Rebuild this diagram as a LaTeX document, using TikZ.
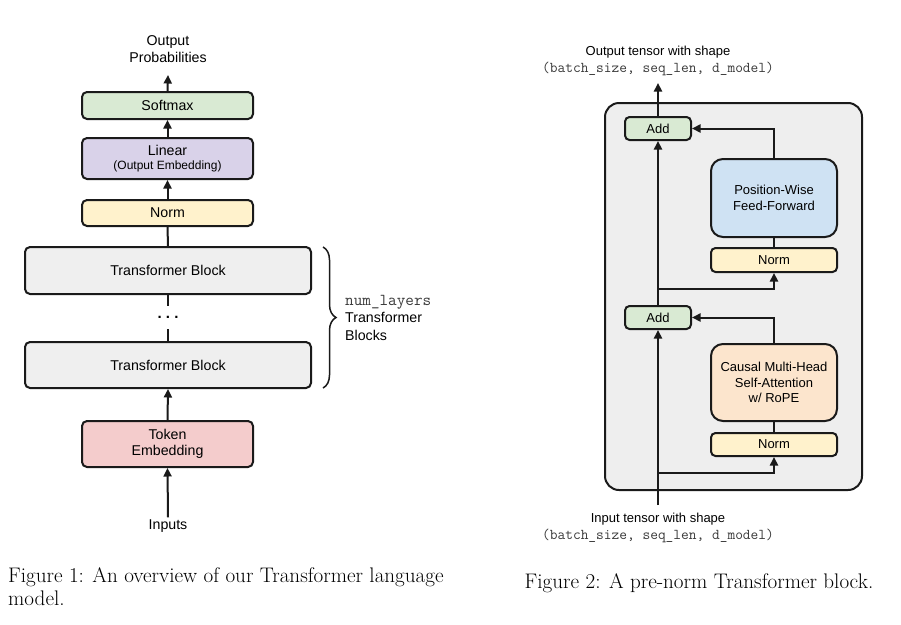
\documentclass[tikz,border=0pt]{standalone}
\usepackage{fontspec}
\newfontfamily\arial{Liberation Sans}
\usetikzlibrary{arrows.meta,decorations.pathreplacing}
\definecolor{cgreen}{HTML}{D9EAD3}
\definecolor{cpurple}{HTML}{D9D2E9}
\definecolor{cyellow}{HTML}{FFF2CC}
\definecolor{cgray}{HTML}{EFEFEF}
\definecolor{cpink}{HTML}{F4CCCC}
\definecolor{cblue}{HTML}{CFE2F3}
\definecolor{cpeach}{HTML}{FCE5CD}
\definecolor{couter}{HTML}{EEEEEE}
\definecolor{cline}{HTML}{1A1A1A}
\definecolor{cmono}{HTML}{3A3A3A}
\begin{document}
\begin{tikzpicture}[x=1pt,y=-1pt,
  blk/.style={draw=cline,line width=2pt,rounded corners=5pt,inner sep=0pt,align=center,
     font=\arial\fontsize{14.2}{16.5}\selectfont},
  rblk/.style={draw=cline,line width=2pt,rounded corners=4.5pt,inner sep=0pt,align=center,
     font=\arial\fontsize{13}{15.5}\selectfont},
  conn/.style={draw=cline,line width=2pt},
  arr/.style={conn,-{Triangle[length=8.5pt,width=8pt]}},
  lbl/.style={inner sep=0pt,align=center,font=\arial\fontsize{14.2}{17}\selectfont},
  rlbl/.style={inner sep=0pt,align=center,font=\arial\fontsize{13}{17}\selectfont},
  captxt/.style={inner sep=0pt,font=\fontsize{21.1}{23.5}\selectfont}]
\useasboundingbox (0,0) rectangle (901,624);
\fill[white] (0,0) rectangle (901,624);

% ---------- Figure 1 ----------
\node[lbl] (outp) at (168,49) {Output\\Probabilities};
\coordinate (outarr) at (168,75);
\node[blk,fill=cgreen,minimum width=171pt,minimum height=27pt] (softmax) at (167.5,105.5) {Softmax};
\node[blk,fill=cpurple,minimum width=171pt,minimum height=41pt] (linear) at (167.5,158.5)
  {Linear\\[-2pt]{\fontsize{12}{13}\selectfont (Output Embedding)}};
\node[blk,fill=cyellow,minimum width=171pt,minimum height=26pt] (norm) at (167.5,213) {Norm};
\node[blk,fill=cgray,minimum width=286pt,minimum height=47pt] (tb1) at (168,270.5) {Transformer Block};
\node[inner sep=0pt,minimum height=23pt,font=\arial\bfseries\fontsize{15}{16}\selectfont] (dots) at (168,317.5) {.\hspace{4.2pt}.\hspace{4.2pt}.};
\node[blk,fill=cgray,minimum width=286pt,minimum height=46pt] (tb2) at (168,365) {Transformer Block};
\node[blk,fill=cpink,minimum width=171pt,minimum height=46pt] (token) at (167.5,444) {Token\\Embedding};
\node[lbl,inner sep=2pt] (inputs) at (168,526) {Inputs};

\draw[arr] (softmax.north) -- (outarr);
\draw[arr] (linear.north) -- (softmax.south);
\draw[arr] (norm.north) -- (linear.south);
\draw[conn] (tb1.north) -- (norm.south);
\draw[conn] (tb1.south) -- (dots.north);
\draw[conn] (dots.south) -- (tb2.north);
\draw[arr] (token.north) -- (tb2.south);
\draw[arr] (inputs.north) -- (token.south);

\coordinate (brtop) at (323,247);
\coordinate (brbot) at (323,388);
\draw[cline,line width=1.5pt,decorate,decoration={brace,amplitude=13pt}] (brtop) -- (brbot);
\node[inner sep=0pt,anchor=west,align=left,font=\arial\fontsize{14.2}{17.5}\selectfont] (brlbl) at (345,317.5)
  {{\color{cmono}\ttfamily\fontsize{16.7}{17}\selectfont num\_layers}\\Transformer\\Blocks};

\node[captxt,anchor=base west] (cap1a) at (8,582) {Figure 1: An overview of our Transformer language};
\node[captxt,anchor=base west] (cap1b) at (8,605) {model.};

% ---------- Figure 2 ----------
\node[draw=cline,line width=2pt,rounded corners=14pt,fill=couter,minimum width=257pt,minimum height=387pt,inner sep=0pt] (outer) at (733.5,296.5) {};
\node[rlbl] (outtxt) at (658,61) {Output tensor with shape\\{\color{cmono}\ttfamily\fontsize{15}{15}\selectfont (batch\_size, seq\_len, d\_model)}};
\coordinate (outarr2) at (658,83);
\node[rblk,fill=cgreen,minimum width=66pt,minimum height=23pt] (addT) at (658,128.5) {Add};
\node[rblk,fill=cblue,rounded corners=12pt,minimum width=126pt,minimum height=78pt] (ffn) at (774,198) {Position-Wise\\Feed-Forward};
\node[rblk,fill=cyellow,minimum width=126pt,minimum height=24pt] (normT) at (774,260) {Norm};
\node[rblk,fill=cgreen,minimum width=66pt,minimum height=23pt] (addB) at (658,317.5) {Add};
\node[rblk,fill=cpeach,rounded corners=12pt,minimum width=126pt,minimum height=77pt] (mha) at (774,382.5) {Causal Multi-Head\\Self-Attention\\w/ RoPE};
\node[rblk,fill=cyellow,minimum width=126pt,minimum height=23pt] (normB) at (774,444.5) {Norm};
\node[rlbl] (intxt) at (658,527.5) {Input tensor with shape\\{\color{cmono}\ttfamily\fontsize{15}{15}\selectfont (batch\_size, seq\_len, d\_model)}};
\coordinate (inarr) at (658,505);
\coordinate (br1) at (658,473);
\coordinate (br2) at (658,289);

\draw[arr] (addT.north) -- (outarr2);
\draw[arr] (inarr) -- (addB.south);
\draw[arr] (addB.north) -- (addT.south);
\draw[arr] (br1) -| (normB.south);
\draw[conn] (normB.north) -- (mha.south);
\draw[arr] (mha.north) |- (addB.east);
\draw[arr] (br2) -| (normT.south);
\draw[conn] (normT.north) -- (ffn.south);
\draw[arr] (ffn.north) |- (addT.east);

\node[captxt,anchor=base] (cap2) at (699,588) {Figure 2: A pre-norm Transformer block.};
\end{tikzpicture}
\end{document}
